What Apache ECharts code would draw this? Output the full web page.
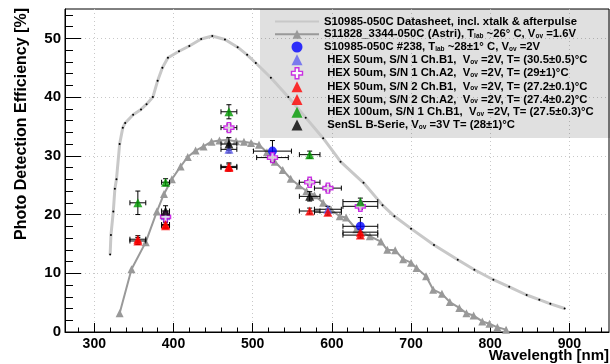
<!DOCTYPE html>
<html>
<head>
<meta charset="utf-8">
<script src="https://cdn.jsdelivr.net/npm/echarts@6/dist/echarts.min.js"></script>
<style>
  html, body { margin: 0; padding: 0; background: #fff; }
  #main { width: 610px; height: 364px; }
</style>
</head>
<body>
<div id="main"></div>
<script>
// axis ticks
const xMajor = [300, 400, 500, 600, 700, 800, 900];
const xMinor = [280, 320, 340, 360, 380, 420, 440, 460, 480, 520, 540, 560, 580, 620, 640, 660, 680,
  720, 740, 760, 780, 820, 840, 860, 880, 920, 940];
const yMajor = [0, 10, 20, 30, 40, 50];
const yMinor = [2, 4, 6, 8, 12, 14, 16, 18, 22, 24, 26, 28, 32, 34, 36, 38, 42, 44, 46, 48, 52, 54];

// S10985-050C datasheet curve
const dsWl = [320, 321, 324, 326, 328, 332, 336, 339, 349, 359, 366, 374, 380, 386, 393, 407, 420, 435,
  449, 465, 481, 493, 504, 523, 545, 567, 589, 611, 640, 664, 679, 700, 729, 759, 780, 804, 824, 846, 862, 876, 894];
const dsPde = [13.2, 16.5, 20.5, 24.4, 26.0, 32.0, 34.8, 35.6, 37.0, 37.9, 38.8, 40.0, 42.8, 45.0, 46.7, 47.8, 48.7, 49.9,
  50.4, 49.8, 48.5, 47.2, 45.8, 43.3, 40.0, 36.5, 33.0, 29.0, 25.4, 21.6, 19.7, 17.6, 14.8, 12.3, 10.6, 8.9, 7.7, 6.3, 5.5, 4.8, 4.0];

// S11828 (Astri) curve
const astriWl = [332, 347, 365, 379, 388, 398, 409, 418, 428, 438, 448, 458, 468, 479, 489, 498, 508, 518, 528, 538,
  548, 558, 568, 578, 589, 599, 610, 618, 631, 648, 662, 670, 680, 690, 700, 707, 719, 728, 739, 749, 761, 770, 779, 790, 799, 809, 820];
const astriPde = [3.2, 10.7, 15.3, 20.5, 23.5, 26.0, 28.2, 29.8, 30.9, 31.6, 32.4, 32.6, 32.7, 32.5, 32.4, 32.2, 31.9, 30.6, 29.0, 27.6,
  26.1, 25.0, 24.0, 23.3, 22.0, 20.8, 19.7, 19.5, 17.5, 16.3, 15.4, 14.0, 13.9, 12.4, 11.8, 10.9, 9.5, 7.2, 6.5, 5.1, 4.1, 3.2, 2.8, 1.8, 1.4, 0.8, 0.4];

// measured points: wavelength, pde, x error, y error
const s238Wl = [525, 636];
const s238Pde = [30.8, 18.0];
const s238Xe = [24, 22];
const s238Ye = [1.8, 1.5];

const h1b1Wl = [390, 470, 595];
const h1b1Pde = [19.8, 31.1, 20.9];
const h1b1Xe = [5, 10, 17];
const h1b1Ye = [0.5, 0.6, 0.5];

const h1a2Wl = [390, 470, 525, 572, 595, 636];
const h1a2Pde = [19.6, 34.8, 29.7, 25.5, 24.5, 21.4];
const h1a2Xe = [5, 10, 20, 13, 17, 22];
const h1a2Ye = [0.5, 0.6, 0.6, 0.5, 0.5, 0.5];

const h2b1Wl = [355, 390, 470, 572, 636];
const h2b1Pde = [15.8, 18.1, 28.2, 20.6, 16.5];
const h2b1Xe = [10, 5, 10, 13, 22];
const h2b1Ye = [0.6, 0.5, 0.6, 0.5, 0.5];

const h2a2Wl = [355, 390, 470, 595, 636];
const h2a2Pde = [15.5, 18.3, 28.0, 20.4, 17.0];
const h2a2Xe = [10, 5, 10, 17, 22];
const h2a2Ye = [0.6, 0.5, 0.6, 0.5, 0.5];

const h100Wl = [355, 390, 470, 572, 636];
const h100Pde = [22.0, 25.5, 37.5, 30.2, 22.2];
const h100Xe = [10, 5, 10, 13, 22];
const h100Ye = [2.0, 0.6, 1.2, 0.6, 0.6];

const senslWl = [390, 470, 572];
const senslPde = [20.6, 32.0, 23.1];
const senslXe = [5, 10, 13];
const senslYe = [0.9, 1.1, 0.8];

const legendLabels = [
  'S10985-050C Datasheet, incl. xtalk & afterpulse',
  'S11828_3344-050C (Astri), T{s|lab} ~26° C, V{s|ov} =1.6V',
  'S10985-050C #238, T{s|lab} ~28±1° C, V{s|ov} =2V',
  ' HEX 50um, S/N 1 Ch.B1,  V{s|ov} =2V, T= (30.5±0.5)°C',
  ' HEX 50um, S/N 1 Ch.A2,  V{s|ov} =2V, T= (29±1)°C',
  ' HEX 50um, S/N 2 Ch.B1,  V{s|ov} =2V, T= (27.2±0.1)°C',
  ' HEX 50um, S/N 2 Ch.A2,  V{s|ov} =2V, T= (27.4±0.2)°C',
  ' HEX 100um, S/N 1 Ch.B1,  V{s|ov} =2V, T= (27.5±0.3)°C',
  ' SenSL B-Serie, V{s|ov} =3V T= (28±1)°C'
];
const names = legendLabels.map(s => s.replace(/\{s\|(.*?)\}/g, '$1'));

const FONT = 'Liberation Sans';
const crossPath = 'path://M1,0H2V1H3V2H2V3H1V2H0V1H1Z';
const triPath = 'path://M1,0L2,2H0Z';

function errBars(wl, pde, xe, ye) {
  return {
    type: 'custom',
    silent: true,
    z: 3,
    encode: { x: 0, y: 1 },
    data: wl.map((w, i) => [w, pde[i], xe[i], ye[i]]),
    renderItem: (params, api) => {
      const x = api.value(0), y = api.value(1), dx = api.value(2), dy = api.value(3);
      const c = api.coord([x, y]);
      const l = api.coord([x - dx, y])[0], r = api.coord([x + dx, y])[0];
      const t = api.coord([x, y + dy])[1], b = api.coord([x, y - dy])[1];
      const cap = 2.5;
      const st = { stroke: '#000', lineWidth: 1 };
      const ln = (x1, y1, x2, y2) => ({ type: 'line', shape: { x1, y1, x2, y2 }, style: st });
      return {
        type: 'group',
        children: [
          ln(l, c[1], r, c[1]),
          ln(l, c[1] - cap, l, c[1] + cap),
          ln(r, c[1] - cap, r, c[1] + cap),
          ln(c[0], t, c[0], b),
          ln(c[0] - cap, t, c[0] + cap, t),
          ln(c[0] - cap, b, c[0] + cap, b)
        ]
      };
    }
  };
}

function points(name, wl, pde, symbol, size, itemStyle) {
  return {
    name, type: 'scatter', symbol, symbolSize: size, z: 4,
    symbolKeepAspect: true,
    itemStyle,
    data: wl.map((w, i) => [w, pde[i]])
  };
}

const chart = echarts.init(document.getElementById('main'));
chart.setOption({
  animation: false,
  backgroundColor: '#fff',
  grid: { left: 65, right: 1, top: 9, bottom: 32, show: true, borderColor: '#000', borderWidth: 1 },
  xAxis: [
    {
      type: 'value', min: 263, max: 950, position: 'bottom',
      axisLine: { lineStyle: { color: '#000', width: 1 } },
      axisTick: { inside: true, length: 9, customValues: xMajor, lineStyle: { color: '#000' } },
      axisLabel: { customValues: xMajor, color: '#000', fontFamily: FONT, fontWeight: 'bold', fontSize: 14, margin: 5 },
      splitLine: { show: true, lineStyle: { color: '#c8c8c8', type: [1, 3] } }
    },
    {
      type: 'value', min: 263, max: 950, position: 'bottom',
      axisLine: { show: false },
      axisTick: { inside: true, length: 4.5, customValues: xMinor, lineStyle: { color: '#000' } },
      axisLabel: { show: false },
      splitLine: { show: false }
    }
  ],
  yAxis: [
    {
      type: 'value', min: 0, max: 55, position: 'left',
      axisLine: { show: true, lineStyle: { color: '#000', width: 1 } },
      axisTick: { show: true, inside: true, length: 16, customValues: yMajor, lineStyle: { color: '#000' } },
      axisLabel: { customValues: yMajor, color: '#000', fontFamily: FONT, fontWeight: 'bold', fontSize: 15, margin: 4 },
      splitLine: { show: true, lineStyle: { color: '#c8c8c8', type: [1, 3] } }
    },
    {
      type: 'value', min: 0, max: 55, position: 'left',
      axisLine: { show: false },
      axisTick: { show: true, inside: true, length: 8, customValues: yMinor, lineStyle: { color: '#000' } },
      axisLabel: { show: false },
      splitLine: { show: false }
    }
  ],
  legend: {
    orient: 'vertical', left: 274, top: 16, padding: 0,
    itemWidth: 44, itemHeight: 11, itemGap: 1.75,
    selectedMode: false,
    symbolKeepAspect: true,
    data: [
      { name: names[0], itemStyle: { opacity: 0 } },
      { name: names[1] },
      { name: names[2] },
      { name: names[3] },
      { name: names[4], itemStyle: { color: '#fff', borderColor: '#c000e0', borderWidth: 1.4 } },
      { name: names[5] },
      { name: names[6] },
      { name: names[7] },
      { name: names[8] }
    ],
    formatter: n => legendLabels[names.indexOf(n)],
    textStyle: {
      color: '#000', fontFamily: FONT, fontWeight: 'bold', fontSize: 11.3,
      rich: { s: { fontSize: 6.5, fontFamily: FONT, fontWeight: 'bold', verticalAlign: 'bottom', color: '#000' } }
    }
  },
  graphic: [
    { type: 'rect', silent: true, z: 1, shape: { x: 260, y: 9, width: 350, height: 129 }, style: { fill: 'rgba(0,0,0,0.12)' } },
    { type: 'text', x: 609, y: 356, style: { text: 'Wavelength [nm]', font: 'bold 15px "Liberation Sans"', fill: '#000', align: 'right', verticalAlign: 'middle' } },
    { type: 'text', x: 22, y: 8, rotation: Math.PI / 2, style: { text: 'Photo Detection Efficiency [%]', font: 'bold 16px "Liberation Sans"', fill: '#000', align: 'right', verticalAlign: 'middle' } }
  ],
  series: [
    {
      name: names[0], type: 'line', z: 2, symbol: 'circle', symbolSize: 2,
      itemStyle: { color: '#000' },
      lineStyle: { color: '#c8c8c8', width: 3 },
      data: dsWl.map((w, i) => [w, dsPde[i]])
    },
    {
      name: names[1], type: 'line', z: 2, symbol: 'triangle', symbolSize: 8,
      itemStyle: { color: '#999' },
      lineStyle: { color: '#999', width: 2 },
      data: astriWl.map((w, i) => [w, astriPde[i]])
    },
    errBars(s238Wl, s238Pde, s238Xe, s238Ye),
    errBars(h1b1Wl, h1b1Pde, h1b1Xe, h1b1Ye),
    errBars(h1a2Wl, h1a2Pde, h1a2Xe, h1a2Ye),
    errBars(h2b1Wl, h2b1Pde, h2b1Xe, h2b1Ye),
    errBars(h2a2Wl, h2a2Pde, h2a2Xe, h2a2Ye),
    errBars(h100Wl, h100Pde, h100Xe, h100Ye),
    errBars(senslWl, senslPde, senslXe, senslYe),
    points(names[2], s238Wl, s238Pde, 'circle', 9, { color: '#0000ff' }),
    points(names[3], h1b1Wl, h1b1Pde, triPath, 9, { color: '#6060f0' }),
    points(names[4], h1a2Wl, h1a2Pde, crossPath, 10, { color: '#fff', borderColor: '#c000e0', borderWidth: 1.4 }),
    points(names[5], h2b1Wl, h2b1Pde, triPath, 9, { color: '#ff0000' }),
    points(names[6], h2a2Wl, h2a2Pde, triPath, 9, { color: '#ff0000' }),
    points(names[7], h100Wl, h100Pde, triPath, 9, { color: '#009a00' }),
    points(names[8], senslWl, senslPde, triPath, 9, { color: '#000' })
  ]
});
</script>
</body>
</html>
